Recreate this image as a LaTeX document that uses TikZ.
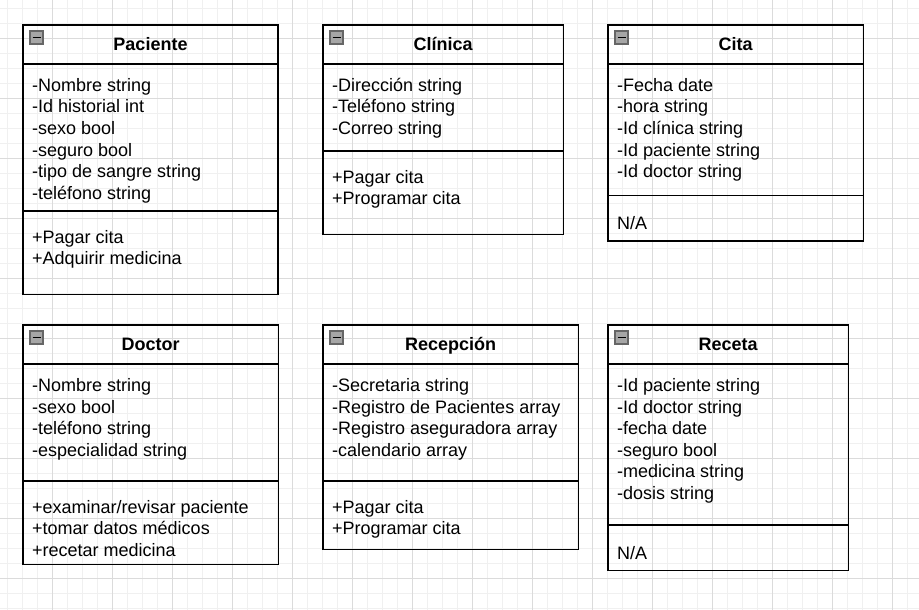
\documentclass[tikz,border=0pt]{standalone}
\usepackage{fontspec}
\setmainfont{Liberation Sans}
\tikzset{
  gridminor/.style={draw=black!6, line width=1pt},
  gridmajor/.style={draw=black!14, line width=1pt},
  classbox/.style={draw=black, line width=1.6pt},
  classtitle/.style={font=\bfseries\fontsize{18}{21.5}\selectfont, anchor=base, inner sep=0pt},
  member/.style={font=\fontsize{18}{21.5}\selectfont, anchor=base west, inner sep=0pt},
  collapsebox/.style={fill=black!35, draw=black!60, line width=1.2pt},
}
\newcommand\classframe[8]{%
  \draw[classbox] (#2,#3) rectangle (#4,#5);
  \draw[classbox] (#2,#6) -- (#4,#6);
  \draw[classbox] (#2,#7) -- (#4,#7);
  \draw[collapsebox] (#2+7,#3+6) rectangle ++(13,13);
  \draw[line width=1.8pt] (#2+9.5,#3+12.5) -- ++(8,0);
  \node[classtitle] (#1) at ({(#2+#4)/2},#3+25.7) {#8};
}
\newcommand\memberlist[4]{%
  \foreach \t [count=\i] in {#4} {
    \node[member] (#1\i) at (#2, #3+21.5*\i-21.5) {\t};
  }
}
\begin{document}
\begin{tikzpicture}[x=1pt,y=-1pt]
\useasboundingbox (0,0) rectangle (919,610);
\fill[white] (0,0) rectangle (919,610);
% grid
\foreach \k in {0,...,60} \draw[gridminor] (7.7+15*\k,0) -- (7.7+15*\k,610);
\foreach \k in {0,...,40} \draw[gridminor] (0,8.3+15*\k) -- (919,8.3+15*\k);
\foreach \k in {0,...,14} \draw[gridmajor] (52.7+60*\k,0) -- (52.7+60*\k,610);
\foreach \k in {0,...,9} \draw[gridmajor] (0,38.3+60*\k) -- (919,38.3+60*\k);

% Paciente
\classframe{paciente}{23}{25}{278}{294.3}{64}{210.7}{Paciente}
\memberlist{paciente-a}{32}{91.5}{{-Nombre string},{-Id historial int},{-sexo bool},{-seguro bool},{-tipo de sangre string},{-teléfono string}}
\memberlist{paciente-m}{32}{243.3}{{+Pagar cita},{+Adquirir medicina}}

% Clinica
\classframe{clinica}{323}{25}{563.3}{234.3}{64}{150.7}{Clínica}
\memberlist{clinica-a}{332}{91.5}{{-Dirección string},{-Teléfono string},{-Correo string}}
\memberlist{clinica-m}{332}{183.3}{{+Pagar cita},{+Programar cita}}

% Cita
\classframe{cita}{608}{25}{863.3}{240.7}{64}{195.3}{Cita}
\memberlist{cita-a}{617}{91.5}{{-Fecha date},{-hora string},{-Id clínica string},{-Id paciente string},{-Id doctor string}}
\memberlist{cita-m}{617}{229}{{N/A}}

% Doctor
\classframe{doctor}{23}{325}{278.3}{564.3}{364}{480.7}{Doctor}
\memberlist{doctor-a}{32}{391.5}{{-Nombre string},{-sexo bool},{-teléfono string},{-especialidad string}}
\memberlist{doctor-m}{32}{513.3}{{+examinar/revisar paciente},{+tomar datos médicos},{+recetar medicina}}

% Recepcion
\classframe{recepcion}{323}{325}{578.3}{549.3}{364}{480.7}{Recepción}
\memberlist{recepcion-a}{332}{391.5}{{-Secretaria string},{-Registro de Pacientes array},{-Registro aseguradora array},{-calendario array}}
\memberlist{recepcion-m}{332}{513.3}{{+Pagar cita},{+Programar cita}}

% Receta
\classframe{receta}{608}{325}{848.3}{570.3}{364}{525}{Receta}
\memberlist{receta-a}{617}{391.5}{{-Id paciente string},{-Id doctor string},{-fecha date},{-seguro bool},{-medicina string},{-dosis string}}
\memberlist{receta-m}{617}{559}{{N/A}}
\end{tikzpicture}
\end{document}
